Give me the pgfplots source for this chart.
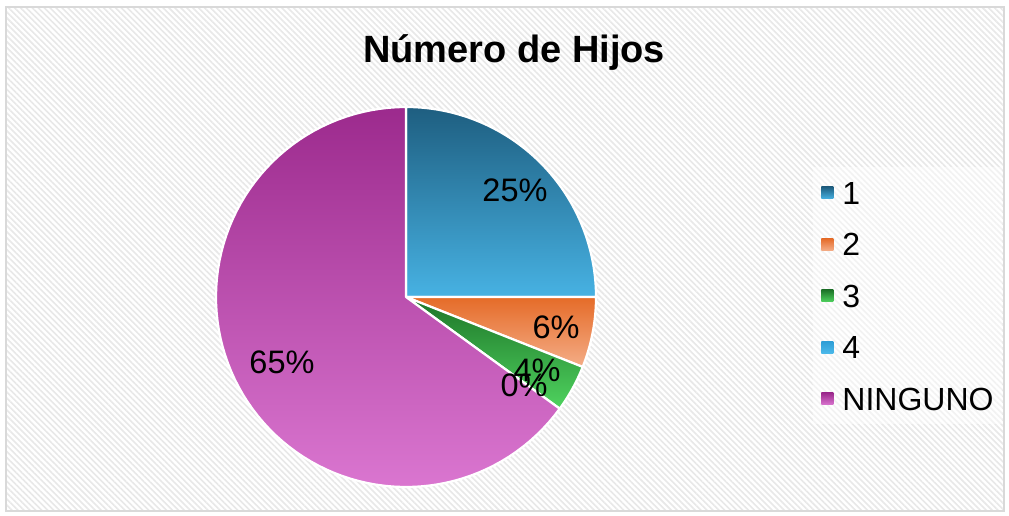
\documentclass[border=0pt]{standalone}
\usepackage{pgfplots}
\pgfplotsset{compat=1.18}
\usepackage{pgfplotstable}
\usepackage{fontspec}
\setmainfont{Liberation Sans}
\usetikzlibrary{patterns.meta}

\definecolor{bTop}{HTML}{1E5E80}\definecolor{bBot}{HTML}{47B2E3}
\definecolor{oTop}{HTML}{E56B28}\definecolor{oBot}{HTML}{F4AD87}
\definecolor{gTop}{HTML}{1D7428}\definecolor{gBot}{HTML}{4FD35F}
\definecolor{lTop}{HTML}{2E9ED6}\definecolor{lBot}{HTML}{4CB9EA}
\definecolor{pTop}{HTML}{9C2A8D}\definecolor{pBot}{HTML}{DA76D0}

\pgfplotstableread{
cat value
1 25
2 6
3 4
4 0
NINGUNO 65
}\datatable

\newcommand\slice[4]{%
\addplot[forget plot, draw=white, line width=2.2pt, line join=round, top color=#3, bottom color=#4,
  domain=#1:#2, samples=90, variable=\t]
  ({406+190*cos(\t)},{219+190*sin(\t)}) -- (axis cs:406,219) -- cycle;}

\newcommand\legsq[2]{\addlegendimage{legend image code/.code={\shade[draw=none,opacity=1,fill opacity=1,top color=#1,bottom color=#2] (0pt,-6pt) rectangle (12pt,6pt);}}}

\begin{document}%
\begin{tikzpicture}
\pgfplotstablegetelem{0}{value}\of\datatable \let\va\pgfplotsretval
\pgfplotstablegetelem{1}{value}\of\datatable \let\vb\pgfplotsretval
\pgfplotstablegetelem{2}{value}\of\datatable \let\vc\pgfplotsretval
\pgfplotstablegetelem{3}{value}\of\datatable \let\vd\pgfplotsretval
\pgfplotstablegetelem{4}{value}\of\datatable \let\ve\pgfplotsretval
\pgfmathsetmacro\aA{90}
\pgfmathsetmacro\aB{\aA-3.6*\va}
\pgfmathsetmacro\aC{\aB-3.6*\vb}
\pgfmathsetmacro\aD{\aC-3.6*\vc}
\pgfmathsetmacro\aE{\aD-3.6*\vd}
\pgfmathsetmacro\aF{\aE-3.6*\ve}
\path (0,0) rectangle (1009pt,516pt);
\fill[white] (6pt,5pt) rectangle (1004pt,509pt);
\fill[pattern={Lines[angle=-45,distance=4.2pt,line width=1.6pt]}, pattern color=black!9] (6pt,5pt) rectangle (1004pt,509pt);
\draw[black!15, line width=1.5pt] (6pt,5pt) rectangle (1004pt,509pt);
\begin{axis}[
  width=1009pt, height=516pt, scale only axis,
  xmin=0, xmax=1009, ymin=0, ymax=516,
  hide axis, clip=false,
  legend cell align=left,
  legend style={at={(0.806,0.4264)}, anchor=west, draw=none, fill=white, fill opacity=0.45, text opacity=1,
    font=\fontsize{32}{38}\selectfont, row sep=28.5pt, column sep=9pt,
    nodes={inner sep=0pt, text height=23pt, text depth=0pt}, inner xsep=8pt, inner ysep=14pt},
]
\slice{\aB}{\aA}{bTop}{bBot}
\slice{\aC}{\aB}{oTop}{oBot}
\slice{\aD}{\aC}{gTop}{gBot}
\slice{\aF}{\aE}{pTop}{pBot}
\legsq{bTop}{bBot}\addlegendentry{1}
\legsq{oTop}{oBot}\addlegendentry{2}
\legsq{gTop}{gBot}\addlegendentry{3}
\legsq{lTop}{lBot}\addlegendentry{4}
\legsq{pTop}{pBot}\addlegendentry{NINGUNO}
\node[font=\bfseries\fontsize{38}{44}\selectfont, anchor=base] at (axis cs:514,453) {Número de Hijos};
\begin{scope}[every node/.style={font=\fontsize{32.5}{38}\selectfont, inner sep=0pt}]
\node at (axis cs:515,326) {25\%};
\node at (axis cs:556,189) {6\%};
\node at (axis cs:537,146) {4\%};
\node at (axis cs:524,131) {0\%};
\node at (axis cs:282,154) {65\%};
\end{scope}
\end{axis}
\end{tikzpicture}%
\end{document}
